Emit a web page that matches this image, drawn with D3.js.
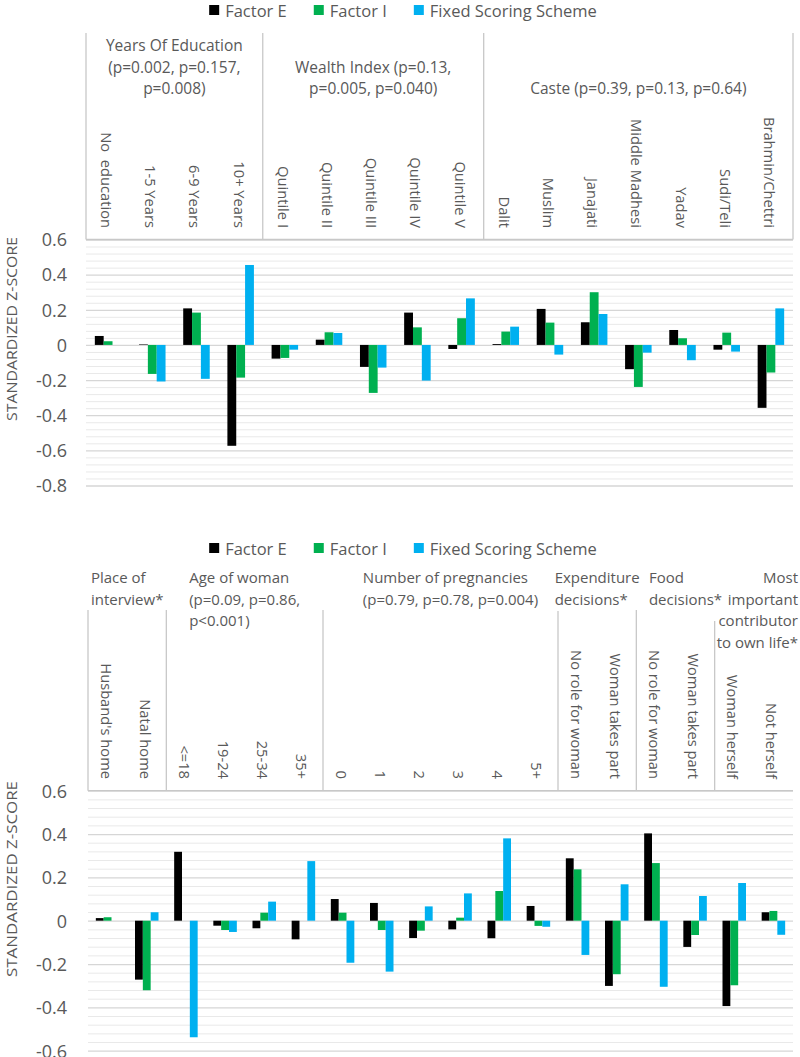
<!DOCTYPE html>
<html>
<head>
<meta charset="utf-8">
<script src="https://cdn.jsdelivr.net/npm/d3@7"></script>
<style>
  html, body { margin: 0; padding: 0; background: #ffffff; }
  svg { display: block; font-family: "Open Sans", "Noto Sans", sans-serif; }
</style>
</head>
<body>
<svg id="chart" width="800" height="1057"></svg>
<script>
// ---------------- DATA ----------------
const seriesNames = ["Factor E", "Factor I", "Fixed Scoring Scheme"];

// Top chart
const topCategories = ["No  education", "1-5 Years", "6-9 Years", "10+ Years",
  "Quintile I", "Quintile II", "Quintile III", "Quintile IV", "Quintile V",
  "Dalit", "Muslim", "Janajati", "Middle Madhesi", "Yadav", "Sudi/Teli", "Brahmin/Chettri"];
const topGroupLabels = [
  ["Years Of Education", "(p=0.002, p=0.157,", "p=0.008)"],
  ["Wealth Index (p=0.13,", "p=0.005, p=0.040)"],
  ["Caste (p=0.39, p=0.13, p=0.64)"]
];
const topGroupSizes = [4, 5, 7];
const topFactorE = [0.051, 0.003, 0.208, -0.574, -0.078, 0.030, -0.125, 0.184, -0.023, 0.005, 0.205, 0.129, -0.138, 0.085, -0.027, -0.358];
const topFactorI = [0.021, -0.165, 0.184, -0.186, -0.074, 0.072, -0.273, 0.100, 0.152, 0.076, 0.127, 0.300, -0.239, 0.038, 0.070, -0.157];
const topFixed   = [0.000, -0.208, -0.193, 0.455, -0.027, 0.068, -0.129, -0.203, 0.265, 0.104, -0.055, 0.176, -0.044, -0.087, -0.038, 0.208];
const topTicks = [0.6, 0.4, 0.2, 0, -0.2, -0.4, -0.6, -0.8];
const topTickLabels = ["0.6", "0.4", "0.2", "0", "-0.2", "-0.4", "-0.6", "-0.8"];

// Bottom chart
const botCategories = ["Husband's home", "Natal home", "<=18", "19-24", "25-34", "35+",
  "0", "1", "2", "3", "4", "5+",
  "No role for woman", "Woman takes part", "No role for woman", "Woman takes part",
  "Woman herself", "Not herself"];
const botGroupLabels = [
  ["Place of", "interview*"],
  ["Age of woman", "(p=0.09, p=0.86,", "p<0.001)"],
  ["Number of pregnancies", "(p=0.79, p=0.78, p=0.004)"],
  ["Expenditure", "decisions*"],
  ["Food", "decisions*"],
  ["Most", "important", "contributor", "to own life*"]
];
const botGroupSizes = [2, 4, 6, 2, 2, 2];
const botFactorE = [0.012, -0.272, 0.318, -0.023, -0.035, -0.086, 0.100, 0.082, -0.080, -0.040, -0.081, 0.068, 0.288, -0.301, 0.403, -0.121, -0.394, 0.039];
const botFactorI = [0.016, -0.321, 0.000, -0.043, 0.037, 0.000, 0.037, -0.043, -0.046, 0.014, 0.137, -0.024, 0.237, -0.247, 0.266, -0.066, -0.298, 0.045];
const botFixed   = [0.000, 0.039, -0.538, -0.052, 0.088, 0.275, -0.194, -0.235, 0.066, 0.126, 0.380, -0.028, -0.158, 0.168, -0.305, 0.114, 0.174, -0.065];
const botTicks = [0.6, 0.4, 0.2, 0, -0.2, -0.4, -0.6];
const botTickLabels = ["0.6", "0.4", "0.2", "0", "-0.2", "-0.4", "-0.6"];

// ---------------- STYLE ----------------
const colors = ["#000000", "#00b050", "#00b0f0"];
const textColor = "#595959";
const majorGrid = "#d6d6d6";
const minorGrid = "#e9e9e9";
const boxColor = "#c8c8c8";

const svg = d3.select("#chart");

function legend(cy) {
  const g = svg.append("g");
  let x = 0;
  seriesNames.forEach((name, i) => {
    g.append("rect").attr("x", x).attr("y", cy - 5).attr("width", 10).attr("height", 10).attr("fill", colors[i]);
    const t = g.append("text").attr("x", x + 16).attr("y", cy).attr("dominant-baseline", "central")
      .attr("font-size", 16.5).attr("fill", textColor).text(name);
    x += 16 + t.node().getComputedTextLength() + 27;
  });
  const w = x - 27;
  g.attr("transform", `translate(${403 - w / 2},0)`);
}

function drawChart(cfg) {
  const { cats, groupLabels, groupSizes, series, ticks, tickLabels } = cfg;
  const x0 = d3.scaleBand().domain(d3.range(cats.length)).range([cfg.x0, cfg.x1]).paddingInner(0.4).paddingOuter(0.2);
  const x1 = d3.scaleBand().domain(d3.range(series.length)).range([0, x0.bandwidth()]);
  const y = d3.scaleLinear().domain(cfg.domain).range([cfg.yBot, cfg.yTop]);
  const step = x0.step();
  const catLeft = i => cfg.x0 + i * step;

  // minor grid
  const minor = d3.range(Math.round(cfg.domain[0] * 25), Math.round(cfg.domain[1] * 25) + 1)
    .map(k => k / 25).filter(v => Math.abs(Math.round(v * 5) - v * 5) > 1e-6);
  svg.append("g").attr("transform", `translate(${cfg.x0},0)`)
    .call(d3.axisLeft(y).tickValues(minor).tickSize(-(cfg.x1 - cfg.x0)).tickFormat(""))
    .call(g => g.select(".domain").remove())
    .call(g => g.selectAll("line").attr("stroke", minorGrid).attr("stroke-width", 1));
  // major grid
  svg.append("g").attr("transform", `translate(${cfg.x0},0)`)
    .call(d3.axisLeft(y).tickValues(ticks).tickSize(-(cfg.x1 - cfg.x0)).tickFormat(""))
    .call(g => g.select(".domain").remove())
    .call(g => g.selectAll("line").attr("stroke", majorGrid).attr("stroke-width", 1.3));
  // tick labels
  svg.append("g").attr("transform", `translate(67,0)`)
    .call(d3.axisLeft(y).tickValues(ticks).tickSize(0).tickPadding(0).tickFormat((d, i) => tickLabels[i]))
    .call(g => g.select(".domain").remove())
    .call(g => g.selectAll("text").attr("font-size", 18).attr("fill", textColor)
      .attr("font-family", '"Open Sans", sans-serif').attr("dy", "0.35em"));

  // axis title
  svg.append("text").attr("transform", `translate(10.5,${cfg.titleY}) rotate(-90)`)
    .attr("text-anchor", "middle").attr("dominant-baseline", "central")
    .attr("font-size", 15).attr("fill", textColor)
    .attr("textLength", cfg.titleLen).attr("lengthAdjust", "spacingAndGlyphs")
    .text("STANDARDIZED Z-SCORE");

  // bars
  const gBars = svg.append("g");
  cats.forEach((c, i) => {
    series.forEach((vals, s) => {
      const v = vals[i];
      gBars.append("rect")
        .attr("x", x0(i) + x1(s))
        .attr("width", x1.bandwidth())
        .attr("y", Math.min(y(v), y(0)))
        .attr("height", Math.abs(y(v) - y(0)))
        .attr("fill", colors[s]);
    });
  });

  // category labels (rotated)
  cats.forEach((c, i) => {
    const cx = x0(i) + x0.bandwidth() / 2 - 1;
    svg.append("text")
      .attr("transform", `translate(${cx},${cfg.labelEnd}) rotate(90)`)
      .attr("text-anchor", "end").attr("dominant-baseline", "central")
      .attr("font-size", 14.7).attr("fill", textColor)
      .style("white-space", "pre").text(c);
  });

  // box lines
  const gBox = svg.append("g").attr("stroke", boxColor).attr("stroke-width", 1.3);
  gBox.append("line").attr("x1", cfg.x0).attr("x2", cfg.x1).attr("y1", cfg.yTop).attr("y2", cfg.yTop);
  let acc = 0;
  const bounds = [0];
  groupSizes.forEach(n => { acc += n; bounds.push(acc); });
  bounds.forEach((b, k) => {
    if (k === bounds.length - 1 && !cfg.rightBorder) return;
    const top = cfg.boxTops[k];
    gBox.append("line").attr("x1", catLeft(b)).attr("x2", catLeft(b)).attr("y1", top).attr("y2", cfg.yTop);
  });

  // group labels
  groupSizes.forEach((n, k) => {
    const left = catLeft(bounds[k]), right = catLeft(bounds[k + 1]);
    const center = (left + right) / 2;
    const lines = groupLabels[k];
    const mode = cfg.groupAlign(k);
    const g = svg.append("g");
    const texts = lines.map((ln, j) => {
      const yy = mode === "centerBottom"
        ? cfg.headerBottom - (lines.length - 1 - j) * cfg.lineH
        : cfg.headerTop + j * cfg.lineH;
      return g.append("text").attr("y", yy).attr("dominant-baseline", "central")
        .attr("font-size", cfg.headerSize).attr("fill", textColor).text(ln);
    });
    if (mode === "centerBottom") {
      texts.forEach(t => t.attr("x", center).attr("text-anchor", "middle"));
    } else if (mode === "right") {
      texts.forEach(t => t.attr("x", 798).attr("text-anchor", "end"));
    } else {
      const w = d3.max(texts, t => t.node().getComputedTextLength());
      const nudge = cfg.headerNudge ? cfg.headerNudge[k] : 0;
      texts.forEach(t => t.attr("x", center - w / 2 + nudge).attr("text-anchor", "start"));
    }
  });
}

legend(10);
drawChart({
  cats: topCategories, groupLabels: topGroupLabels, groupSizes: topGroupSizes,
  series: [topFactorE, topFactorI, topFixed], ticks: topTicks, tickLabels: topTickLabels,
  x0: 86, x1: 793, yTop: 239.5, yBot: 485.5, domain: [-0.8, 0.6],
  labelEnd: 228, titleY: 329, titleLen: 184,
  boxTops: [33, 33, 33, 33], rightBorder: true,
  headerBottom: 88.3, lineH: 21.7, headerSize: 15.5, groupAlign: () => "centerBottom"
});

legend(548);
drawChart({
  cats: botCategories, groupLabels: botGroupLabels, groupSizes: botGroupSizes,
  series: [botFactorE, botFactorI, botFixed], ticks: botTicks, tickLabels: botTickLabels,
  x0: 88, x1: 793, yTop: 790.7, yBot: 1050.7, domain: [-0.6, 0.6],
  labelEnd: 779, titleY: 879, titleLen: 196,
  boxTops: [610, 610, 610, 611, 610, 621, 610], rightBorder: false,
  headerTop: 577, lineH: 21.5, headerSize: 15,
  headerNudge: [0, 0, 10, 0, 10, 0],
  groupAlign: k => (k === 5 ? "right" : "block")
});
</script>
</body>
</html>
